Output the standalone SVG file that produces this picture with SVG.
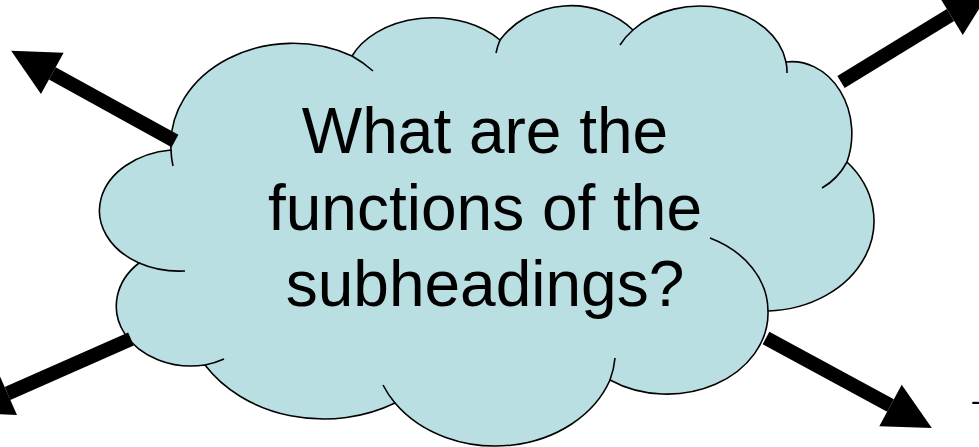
<svg xmlns="http://www.w3.org/2000/svg" width="979" height="447" viewBox="0 0 979 447">
<style>
.cloud{fill:#B9DFE3;stroke:#000;stroke-width:1.6}
.stub{fill:none;stroke:#000;stroke-width:1.6}
.lbl{font-family:"Liberation Sans",Arial,sans-serif;font-size:64px;fill:#000;text-anchor:middle}
.arrow{stroke:#000;stroke-width:14;fill:none;marker-end:url(#ah)}
</style>
<defs>
<marker id="ah" markerUnits="userSpaceOnUse" markerWidth="48" markerHeight="48" refX="0" refY="23.5" orient="auto" overflow="visible">
<path d="M0,0 L47,23.5 L0,47 Z" fill="#000"/>
</marker>
</defs>
<g id="cloud">
<path class="cloud" d="M171,150 A122,101 0 0,1 352,56 A88,63 0 0,1 500,40 A86,79 0 0,1 633,30 A87,66 0 0,1 786,62 A60,72 0 0,1 847,162 A110,90 0 0,1 768,311 A101,81 0 0,1 610,380 A122,100 0 0,1 395,403 A140,115 0 0,1 205,365 A75,60 0 0,1 139,263 A81,61 0 0,1 171,150 Z"/>
<path class="stub" d="M171,150 A122,101 0 0,0 173,166 M352,56 A122,101 0 0,1 373,71 M500,40 A86,79 0 0,0 496,53 M633,30 A87,66 0 0,0 620,45 M786,62 A87,66 0 0,1 787,73 M847,162 A60,72 0 0,1 822,188 M768,311 A101,81 0 0,0 710,238 M610,380 A122,100 0 0,0 615,358 M395,403 A122,100 0 0,1 383,385 M205,365 A75,60 0 0,0 224,359 M139,263 A81,61 0 0,0 185,271"/>
<text class="lbl" x="485" y="153">What are the</text>
<text class="lbl" x="485" y="230">functions of the</text>
<text class="lbl" x="485" y="306">subheadings?</text>
</g>
<g id="connectors">
<line class="arrow" x1="175" y1="141" x2="52.3" y2="73.4"/>
<line class="arrow" x1="841" y1="82" x2="950.5" y2="15"/>
<line class="arrow" x1="131" y1="339" x2="7.5" y2="393.5"/>
<line class="arrow" x1="766" y1="338" x2="890.5" y2="405.5"/>
</g>
<text x="971" y="410" font-family="Liberation Sans, Arial, sans-serif" font-size="28" fill="#000">-</text>
</svg>
